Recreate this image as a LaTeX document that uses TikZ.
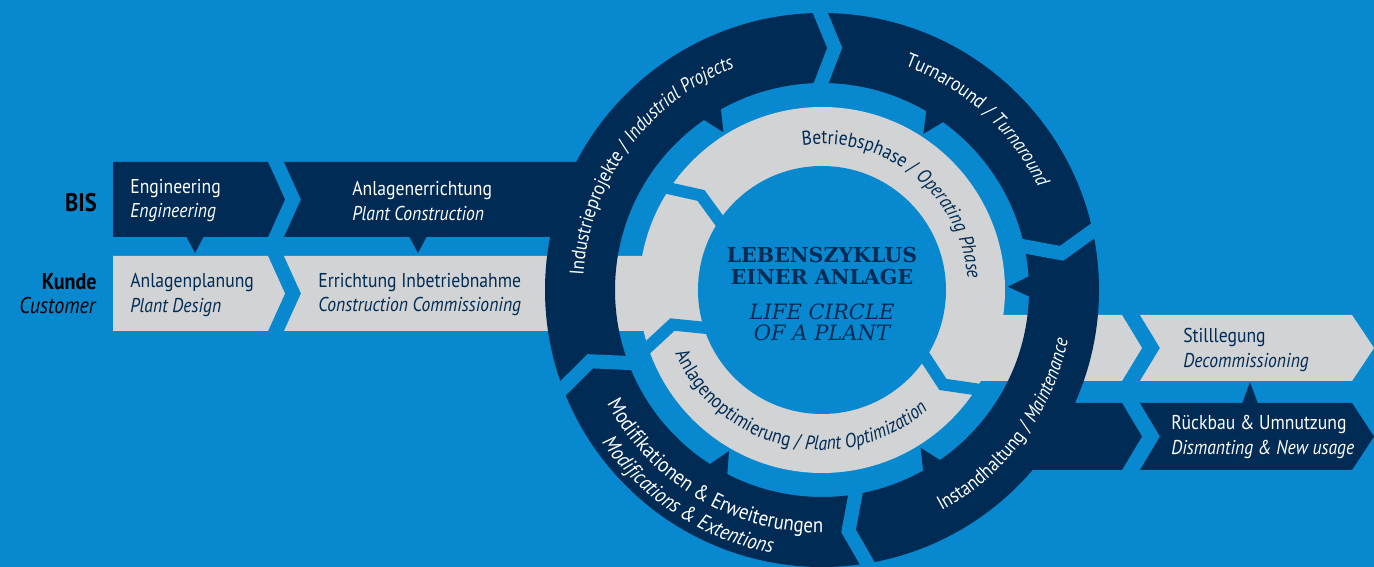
\documentclass[tikz,border=0pt]{standalone}
\usepackage{fontspec}
\setmainfont{PT Sans}[FakeStretch=0.88]
\newfontfamily\slabfont{DejaVu Serif}
\usepackage{tikz}
\usetikzlibrary{decorations.text}

\definecolor{bisblue}{RGB}{8,137,207}
\definecolor{bisnavy}{RGB}{0,43,84}
\definecolor{bisgray}{RGB}{209,211,212}

\newcommand{\ringfont}{\fontsize{11.3}{13}\selectfont}
\newcommand{\ringfontbig}{\fontsize{12.2}{14}\selectfont}
% blue chevron gap in a ring: angle, depth, inner radius, outer radius
\newcommand{\ringgap}[4]{\draw[gapline] (#1:#3) -- ({#1-#2}:{(#3+#4)/2}) -- (#1:#4);}
% navy tip from the outer ring towards the inner ring
\newcommand{\ringpointer}[1]{\fill[bisnavy] ({#1+3}:209) -- (#1:186) -- ({#1-3}:209) -- cycle;}

\begin{document}
\begin{tikzpicture}[x=0.02cm, y=0.02cm,
  gapline/.style={draw=bisblue, line width=0.28cm, line join=miter},
  boxtext/.style={anchor=west, align=left, inner sep=0pt, font=\fontsize{11.4}{13.7}\selectfont},
  titletext/.style={align=center, inner sep=0pt, text=bisnavy}]
  \fill[bisblue] (0,0) rectangle (1374,567);
  \useasboundingbox (0,0) rectangle (1374,567);

  % left rows
  \fill[bisnavy] (113,405) -- (268,405) -- (285,367.5) -- (268,330) -- (113,330) -- cycle;
  \fill[bisnavy] (284,405) -- (600,405) -- (600,330) -- (284,330) -- (301,367.5) -- cycle;
  \fill[bisgray] (113,311) -- (268,311) -- (285,273.5) -- (268,236) -- (113,236) -- cycle;
  \fill[bisgray] (284,311) -- (705,311) -- (705,236) -- (284,236) -- (301,273.5) -- cycle;
  \fill[bisnavy] (186,331) -- (204,331) -- (195,314) -- cycle;
  \fill[bisnavy] (409,331) -- (427,331) -- (418,314) -- cycle;

  % right rows
  \fill[bisgray] (945,252) -- (1122,252) -- (1142,219) -- (1122,186) -- (945,186) -- cycle;
  \fill[bisgray] (1140,252) -- (1352,252) -- (1374,219) -- (1352,186) -- (1140,186) -- (1160,219) -- cycle;
  \fill[bisnavy] (1000,164) -- (1122,164) -- (1142,130.5) -- (1122,97) -- (1000,97) -- cycle;
  \fill[bisnavy] (1140,164) -- (1352,164) -- (1374,130.5) -- (1352,97) -- (1140,97) -- (1160,130.5) -- cycle;
  \fill[bisnavy] (1242,163) -- (1258,163) -- (1250,185) -- cycle;

  \begin{scope}[shift={(822,277)}]
    % inner ring
    \fill[bisgray] (0,0) circle[radius=183];
    \begin{scope}[gapline/.append style={line width=0.24cm}]
      \ringgap{147}{5}{118}{189}
      \ringgap{-32}{6}{118}{189}
      \ringgap{199}{6}{118}{189}
    \end{scope}
    % outer ring
    \fill[bisnavy, even odd rule] (0,0) circle[radius=277] (0,0) circle[radius=207];
    \ringgap{91}{4}{200}{285}
    \ringgap{13}{4.3}{200}{285}
    \ringgap{-80}{3.7}{200}{285}
    \ringgap{201.5}{4.4}{200}{285}
    \ringpointer{122}
    \ringpointer{57}
    \ringpointer{1}
    \ringpointer{-58}
    \ringpointer{-120}
    \fill[bisblue] (0,0) circle[radius=124];

    % ring labels
    \path[decorate, decoration={text along path, text align=center, text color=white,
      text={|\ringfont|Industrieprojekte / |\ringfont\itshape|Industrial Projects}}]
      (192:239) arc[start angle=192, end angle=96, radius=239];
    \path[decorate, decoration={text along path, text align=center, text color=white,
      text={|\ringfont|Turnaround / |\ringfont\itshape|Turnaround}}]
      (88:239) arc[start angle=88, end angle=7, radius=239];
    \path[decorate, decoration={text along path, text align=center, text color=bisnavy,
      text={|\ringfont|Betriebsphase / |\ringfont\itshape|Operating Phase}}]
      (115:146) arc[start angle=115, end angle=-13, radius=146];
    \path[decorate, decoration={text along path, text align=center, text color=bisnavy,
      text={|\ringfont|Anlagenoptimierung / |\ringfont\itshape|Plant Optimization}}]
      (190:160) arc[start angle=190, end angle=325, radius=160];
    \path[decorate, decoration={text along path, text align=center, text color=white,
      text={|\ringfontbig|Modifikationen {\&} Erweiterungen}}]
      (202:243) arc[start angle=202, end angle=276, radius=243];
    \path[decorate, decoration={text along path, text align=center, text color=white,
      text={|\ringfontbig\itshape|Modifications {\&} Extentions}}]
      (206:268) arc[start angle=206, end angle=268, radius=268];
    \path[decorate, decoration={text along path, text align=center, text color=white,
      text={|\ringfont|Instandhaltung / |\ringfont\itshape|Maintenance}}]
      (-75:251) arc[start angle=-75, end angle=2, radius=251];

    % centre
    \node[titletext, font=\slabfont\bfseries\fontsize{11.7}{12.5}\selectfont] (lebenszyklus) at (0,23.5) {LEBENSZYKLUS\\EINER ANLAGE};
    \node[titletext, font=\slabfont\itshape\fontsize{12}{12}\selectfont] (lifecircle) at (0,-32) {LIFE CIRCLE\\OF A PLANT};
  \end{scope}

  % row labels
  \node[anchor=east, inner sep=0pt, font=\bfseries\fontsize{14.5}{16}\selectfont] (bis) at (97,364) {BIS};
  \node[anchor=east, align=right, inner sep=0pt, font=\fontsize{13}{13.5}\selectfont] (kunde) at (97,273) {\textbf{Kunde}\\\textit{Customer}};

  % box texts
  \node[boxtext, text=white] (engineering) at (130,366) {Engineering\\\textit{Engineering}};
  \node[boxtext, text=white] (anlagenerrichtung) at (352,366) {Anlagenerrichtung\\\textit{Plant Construction}};
  \node[boxtext, text=bisnavy] (anlagenplanung) at (130,272) {Anlagenplanung\\\textit{Plant Design}};
  \node[boxtext, text=bisnavy] (errichtung) at (318,272) {Errichtung Inbetriebnahme\\\textit{Construction Commissioning}};
  \node[boxtext, text=bisnavy] (stilllegung) at (1183,217) {Stilllegung\\\textit{Decommissioning}};
  \node[boxtext, text=white] (rueckbau) at (1171,130) {Rückbau \& Umnutzung\\\textit{Dismanting \& New usage}};
\end{tikzpicture}
\end{document}
